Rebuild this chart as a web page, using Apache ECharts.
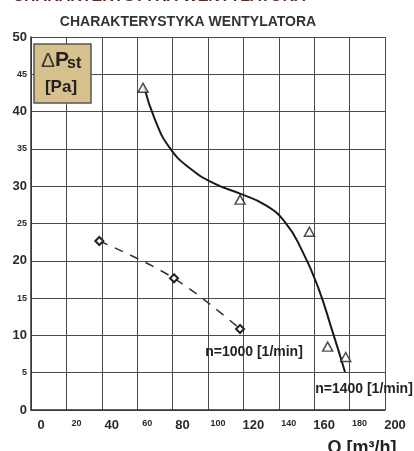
<!DOCTYPE html>
<html>
<head>
<meta charset="utf-8">
<script src="https://cdn.jsdelivr.net/npm/echarts@6/dist/echarts.min.js"></script>
<style>
html,body{margin:0;padding:0;background:#fff;}
#c{width:414px;height:451px;}
</style>
</head>
<body>
<div id="c"></div>
<script>
// Data (Q in m3/h, dPst in Pa)
var xTicks = [0, 20, 40, 60, 80, 100, 120, 140, 160, 180, 200];
var yTicks = [0, 5, 10, 15, 20, 25, 30, 35, 40, 45, 50];
var q1400Points = [63.3, 118.1, 157.3, 167.6, 177.8];
var p1400Points = [43.2, 28.2, 23.9, 8.5, 7.1];
var q1400Curve = [63.8, 70.1, 78.5, 89.8, 104.0, 118.1, 132.2, 143.5, 153.1, 162.1, 170.1, 177.4];
var p1400Curve = [43.4, 38.9, 35.1, 32.4, 30.3, 29.0, 27.5, 25.2, 21.4, 16.5, 10.7, 5.1];
var q1000 = [38.6, 80.8, 118.1];
var p1000 = [22.65, 17.65, 10.86];
var label1000 = 'n=1000 [1/min]';
var label1400 = 'n=1400 [1/min]';
var chartTitle = 'CHARAKTERYSTYKA WENTYLATORA';
var xName = 'Q [m³/h]';

function zip(a, b) { return a.map(function (v, i) { return [v, b[i]]; }); }

var chart = echarts.init(document.getElementById('c'), null, {renderer: 'canvas'});
var F = '"Liberation Sans", Arial, sans-serif';
var gridColor = '#4a4a4a';

chart.setOption({
  animation: false,
  backgroundColor: '#fff',
  grid: {left: 31, top: 37, width: 354, height: 373, containLabel: false},
  xAxis: {
    type: 'value', min: 0, max: 200, interval: 20,
    axisLine: {show: true, onZero: false, lineStyle: {color: '#333', width: 1.5}},
    axisTick: {show: false},
    splitLine: {show: true, lineStyle: {color: gridColor, width: 1}},
    axisLabel: {
      margin: 9,
      padding: [0, 0, 0, 20],
      formatter: function (v) { return (v % 40 === 0 ? '{b|' : '{s|') + v + '}'; },
      rich: {
        b: {fontFamily: F, fontWeight: 'bold', fontSize: 13, color: '#2a2a2a', lineHeight: 14, verticalAlign: 'top'},
        s: {fontFamily: F, fontWeight: 'bold', fontSize: 9, color: '#2a2a2a', lineHeight: 14, verticalAlign: 'top'}
      }
    }
  },
  yAxis: {
    type: 'value', min: 0, max: 50, interval: 5,
    axisLine: {show: true, lineStyle: {color: '#333', width: 1.5}},
    axisTick: {show: false},
    splitLine: {show: true, lineStyle: {color: gridColor, width: 1}},
    axisLabel: {
      margin: 4,
      formatter: function (v) { return (v % 10 === 0 ? '{b|' : '{s|') + v + '}'; },
      rich: {
        b: {fontFamily: F, fontWeight: 'bold', fontSize: 13, color: '#2a2a2a'},
        s: {fontFamily: F, fontWeight: 'bold', fontSize: 9, color: '#2a2a2a'}
      }
    }
  },
  series: [
    {
      name: 'n1400curve', type: 'line', smooth: 0.5, symbol: 'none',
      data: zip(q1400Curve, p1400Curve),
      lineStyle: {color: '#1a1a1a', width: 2}, z: 3
    },
    {
      name: 'n1400', type: 'scatter', symbol: 'triangle', symbolSize: [10, 9],
      data: zip(q1400Points, p1400Points),
      itemStyle: {color: '#fff', borderColor: '#222', borderWidth: 1.5}, z: 4
    },
    {
      name: 'n1000', type: 'line', smooth: 0.4, symbol: 'diamond', symbolSize: 8, showSymbol: true,
      data: zip(q1000, p1000),
      lineStyle: {color: '#333', width: 1.5, type: [9, 8]},
      itemStyle: {color: '#fff', borderColor: '#222', borderWidth: 2}, z: 4
    }
  ],
  graphic: [
    {type: 'text', x: 159, y: 5, style: {text: chartTitle, font: 'bold 16px ' + F, fill: '#7a2210', align: 'center', verticalAlign: 'bottom'}},
    {type: 'text', x: 188, y: 22, style: {text: chartTitle, font: 'bold 14px ' + F, fill: '#333', align: 'center', verticalAlign: 'middle'}},
    {type: 'rect', shape: {x: 34, y: 44, width: 57, height: 59}, style: {fill: '#d6c08b', stroke: '#555', lineWidth: 1.5}, z: 10},
    {type: 'text', x: 41, y: 61, style: {text: 'Δ', font: '21px ' + F, fill: '#3a3a3a', verticalAlign: 'middle'}, z: 11},
    {type: 'text', x: 55, y: 60, style: {text: 'P', font: 'bold 21px ' + F, fill: '#222', verticalAlign: 'middle'}, z: 11},
    {type: 'text', x: 67, y: 64, style: {text: 'st', font: 'bold 16px ' + F, fill: '#222', verticalAlign: 'middle'}, z: 11},
    {type: 'text', x: 61, y: 87, style: {text: '[Pa]', font: 'bold 17px ' + F, fill: '#222', align: 'center', verticalAlign: 'middle'}, z: 11},
    {type: 'text', x: 254, y: 352, style: {text: label1000, font: 'bold 14px ' + F, fill: '#222', align: 'center', verticalAlign: 'middle'}, z: 12},
    {type: 'text', x: 364, y: 389, style: {text: label1400, font: 'bold 14px ' + F, fill: '#222', align: 'center', verticalAlign: 'middle'}, z: 12},
    {type: 'text', x: 362, y: 448, style: {text: xName, font: 'bold 18px ' + F, fill: '#222', align: 'center', verticalAlign: 'middle'}, z: 12}
  ]
});
</script>
</body>
</html>
